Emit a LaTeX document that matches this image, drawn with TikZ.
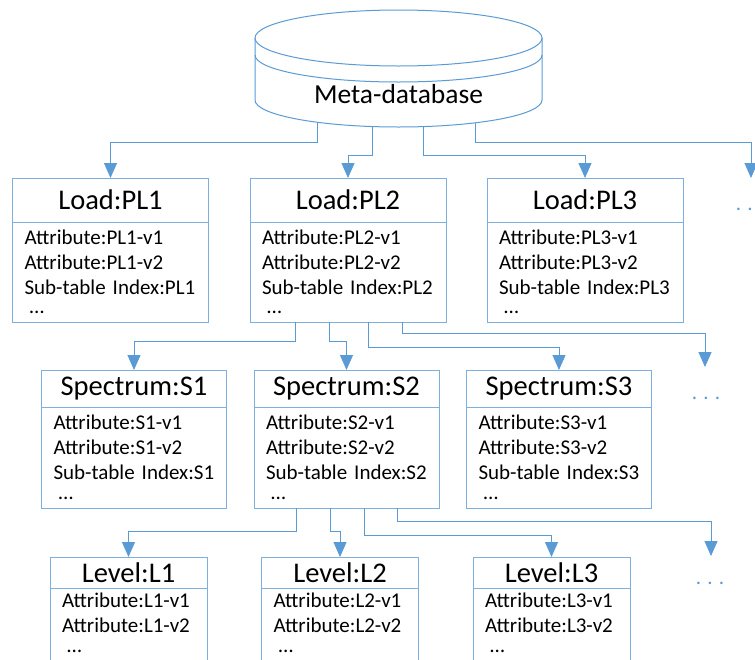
\documentclass[tikz,border=0pt]{standalone}
\usepackage{fontspec}
\setmainfont{Carlito}
\usetikzlibrary{positioning,arrows.meta}
\definecolor{linkblue}{HTML}{5B9BD5}
\definecolor{boxblue}{HTML}{7DAFDF}

\begin{document}
\begin{tikzpicture}[%
  x=1pt, y=-1pt,
  link/.style={draw=linkblue, line width=1pt, -{Triangle[length=15pt,width=13pt]}},
  dbline/.style={draw=linkblue, line width=1pt},
  title/.style={draw=boxblue, line width=1pt, outer sep=0pt, inner sep=0pt,
    font=\fontsize{28.5}{34}\selectfont},
  body/.style={draw=boxblue, line width=1pt, outer sep=0pt, inner xsep=12pt,
    inner ysep=0pt, align=left, font=\fontsize{21}{25}\selectfont},
  loadtitle/.style={title, minimum width=196pt, minimum height=44pt},
  loadbody/.style={body, text width=172pt, minimum height=100pt},
  spectitle/.style={title, minimum width=185pt, minimum height=37pt},
  specbody/.style={body, text width=161pt, minimum height=101pt},
  leveltitle/.style={title, minimum width=157pt, minimum height=31pt},
  levelbody/.style={body, text width=133pt, inner ysep=5.3pt,
    execute at end node={\rule[-20pt]{0pt}{20pt}}},
  more/.style={text=linkblue, anchor=base, font=\fontsize{21}{25}\selectfont}]
  \useasboundingbox (0,0) rectangle (755,659);
  \clip (0,0) rectangle (755,659);
  \draw[dbline, fill=white] (255,38) -- (255,100)
    arc[start angle=180, end angle=360, x radius=143.5pt, y radius=27pt] -- (542,38);
  \draw[dbline] (398.5,38) ellipse[x radius=143.5pt, y radius=28pt];
  \draw[dbline] (255,55) arc[start angle=180, end angle=360, x radius=143.5pt, y radius=27pt];
  \node[anchor=base, font=\fontsize{27.5}{33}\selectfont] (db) at (398.5,103) {Meta-database};
  \coordinate (db1) at (317,122.2);
  \coordinate (db2) at (372,126.5);
  \coordinate (db3) at (423,126.6);
  \coordinate (db4) at (475,122.8);

  \node[loadtitle] (pl1) at (110.5,200) {Load:PL1};
  \node[loadbody, below=0pt of pl1] (pl1b) {Attribute:PL1-v1\\Attribute:PL1-v2\\Sub-table Index:PL1\\[-5.5pt]\hspace*{5pt}\ldots};
  \node[loadtitle] (pl2) at (348,200) {Load:PL2};
  \node[loadbody, below=0pt of pl2] (pl2b) {Attribute:PL2-v1\\Attribute:PL2-v2\\Sub-table Index:PL2\\[-5.5pt]\hspace*{5pt}\ldots};
  \node[loadtitle] (pl3) at (585,200) {Load:PL3};
  \node[loadbody, below=0pt of pl3] (pl3b) {Attribute:PL3-v1\\Attribute:PL3-v2\\Sub-table Index:PL3\\[-5.5pt]\hspace*{5pt}\ldots};
  \coordinate (pl4) at (751,178);
  \node[more] (dots1) at (750,210) {.\hspace{6.2pt}.\hspace{6.2pt}.};

  \node[spectitle] (s1) at (134,388.5) {Spectrum:S1};
  \node[specbody, below=0pt of s1] (s1b) {Attribute:S1-v1\\Attribute:S1-v2\\Sub-table Index:S1\\[-5.5pt]\hspace*{5pt}\ldots};
  \node[spectitle] (s2) at (346.5,388.5) {Spectrum:S2};
  \node[specbody, below=0pt of s2] (s2b) {Attribute:S2-v1\\Attribute:S2-v2\\Sub-table Index:S2\\[-5.5pt]\hspace*{5pt}\ldots};
  \node[spectitle] (s3) at (559,388.5) {Spectrum:S3};
  \node[specbody, below=0pt of s3] (s3b) {Attribute:S3-v1\\Attribute:S3-v2\\Sub-table Index:S3\\[-5.5pt]\hspace*{5pt}\ldots};
  \coordinate (s4) at (705,367);
  \node[more] (dots2) at (706,399) {.\hspace{6.2pt}.\hspace{6.2pt}.};

  \node[leveltitle] (l1) at (128.5,572.5) {Level:L1};
  \node[levelbody, below=0pt of l1] (l1b) {Attribute:L1-v1\\Attribute:L1-v2\\[-5.5pt]\hspace*{5pt}\ldots};
  \node[leveltitle] (l2) at (340,572.5) {Level:L2};
  \node[levelbody, below=0pt of l2] (l2b) {Attribute:L2-v1\\Attribute:L2-v2\\[-5.5pt]\hspace*{5pt}\ldots};
  \node[leveltitle] (l3) at (551.5,572.5) {Level:L3};
  \node[levelbody, below=0pt of l3] (l3b) {Attribute:L3-v1\\Attribute:L3-v2\\[-5.5pt]\hspace*{5pt}\ldots};
  \coordinate (l4) at (711,556);
  \node[more] (dots3) at (710,584) {.\hspace{6.2pt}.\hspace{6.2pt}.};

  \draw[link] (db1) -- ++(0,19.8) -| (pl1.north);
  \draw[link] (db2) -- ++(0,28.5) -| (pl2.north);
  \draw[link] (db3) -- ++(0,28.4) -| (pl3.north);
  \draw[link] (db4) -- ++(0,19.2) -| (pl4);

  \draw[link] ([xshift=-53pt]pl2b.south) -- ++(0,19) -| (s1.north);
  \draw[link] ([xshift=-19pt]pl2b.south) -- ++(0,19) -| (s2.north);
  \draw[link] ([xshift=20pt]pl2b.south) -- ++(0,25) -| (s3.north);
  \draw[link] ([xshift=54pt]pl2b.south) -- ++(0,11) -| (s4);

  \draw[link] ([xshift=-50.5pt]s2b.south) -- ++(0,23) -| (l1.north);
  \draw[link] ([xshift=-16.5pt]s2b.south) -- ++(0,23) -| (l2.north);
  \draw[link] ([xshift=17.5pt]s2b.south) -- ++(0,27) -| (l3.north);
  \draw[link] ([xshift=50.5pt]s2b.south) -- ++(0,13) -| (l4);
\end{tikzpicture}
\end{document}
